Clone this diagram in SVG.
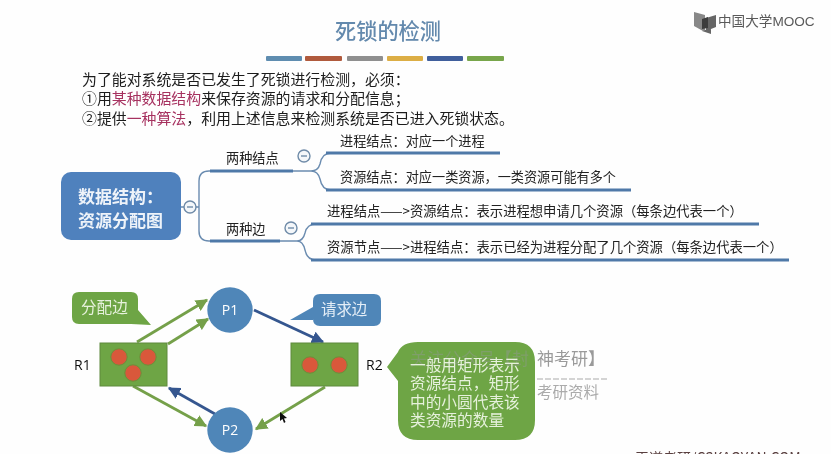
<svg xmlns="http://www.w3.org/2000/svg" width="831" height="454" viewBox="0 0 831 454">
<defs>
<marker id="ag" viewBox="0 0 10 10" refX="9" refY="5" markerWidth="4.4" markerHeight="4.4" orient="auto" markerUnits="strokeWidth"><path d="M0 0L10 5L0 10Z" fill="#74a04a"/></marker>
<marker id="ab" viewBox="0 0 10 10" refX="9" refY="5" markerWidth="4.4" markerHeight="4.4" orient="auto" markerUnits="strokeWidth"><path d="M0 0L10 5L0 10Z" fill="#35578f"/></marker>
<filter id="soft" x="0" y="0" width="100%" height="100%"><feGaussianBlur stdDeviation="0.35"/></filter>
</defs>
<style>
text{font-family:"Noto Sans CJK SC","Liberation Sans",sans-serif}
.body{font-size:14.9px;fill:#1c1c1c}
.hl{fill:#a6305f}
.mm{font-size:13.15px;fill:#222}
.mw{font-size:13.32px;fill:#222}
.thin{fill:none;stroke:#6b8cb0;stroke-width:1.4}
.thick{fill:none;stroke:#4f79a8;stroke-width:3}
.tog{fill:#f4f7fa;stroke:#6f8ba8;stroke-width:1.4}
.togm{stroke:#6f8ba8;stroke-width:1.4}
.proc{fill:#4f86b8}
.proct{font-family:"Open Sans","Liberation Sans",sans-serif;font-size:14px;fill:#fff;text-anchor:middle}
.res{fill:#6ea544;stroke:#5f8a3f;stroke-width:1}
.dot{fill:#d9583a;stroke:#6c8f3a;stroke-width:1}
.lbl{font-family:"Open Sans","Liberation Sans",sans-serif;font-size:14px;fill:#111}
.gr{fill:none;stroke:#74a04a;stroke-width:2.8;marker-end:url(#ag)}
.bl{fill:none;stroke:#35578f;stroke-width:2.8;marker-end:url(#ab)}
.call{font-size:15.7px;fill:#e6f1dc}
</style>
<rect width="831" height="454" fill="#fefefe"/>
<g filter="url(#soft)">
<g id="title">
<text x="388" y="39" font-size="21.2" font-weight="500" fill="#6389ad" text-anchor="middle">死锁的检测</text>
<rect x="266" y="56" width="36" height="5" rx="1" fill="#5e8db0"/>
<rect x="305" y="56" width="37" height="5" rx="1" fill="#b05a3e"/>
<rect x="347" y="56" width="36" height="5" rx="1" fill="#8f8f8f"/>
<rect x="387" y="56" width="36" height="5" rx="1" fill="#dcae45"/>
<rect x="427" y="56" width="36" height="5" rx="1" fill="#3f5e9c"/>
<rect x="467" y="56" width="37" height="5" rx="1" fill="#78a64c"/>
</g>
<g id="logo">
<path d="M694 12L705 15V30L703 31L694 26Z" fill="#888"/>
<path d="M702 31L711 28V34L702 31M706 18L716 15V27L706 31Z" fill="#666"/>
<path d="M702 19L708 17V28L702 29Z" fill="#3c3c3c"/>
<text x="718" y="26" font-size="13.6" fill="#5a5a5a">中国大学<tspan font-family="'Liberation Sans',sans-serif">MOOC</tspan></text>
</g>
<g id="intro">
<text class="body" x="82" y="85">为了能对系统是否已发生了死锁进行检测，必须：</text>
<text class="body" x="82" y="104">①用<tspan class="hl">某种数据结构</tspan>来保存资源的请求和分配信息；</text>
<text class="body" x="82" y="124">②提供<tspan class="hl">一种算法</tspan>，利用上述信息来检测系统是否已进入死锁状态。</text>
</g>
<g id="connectors">
<path class="thin" d="M181 207H199M199 207V181Q199 171 209 171H212M199 207V231Q199 241 209 241H212"/>
<path class="thick" d="M210 171H293M210 241H280"/>
<path class="thin" d="M293 171H311Q318 171 320 164Q322 153 331 153M311 171Q318 171 320 179Q322 190 331 190"/>
<path class="thin" d="M280 241H297Q303 241 305 233Q307 224 316 224M297 241Q303 241 305 250Q307 260 316 260"/>
<path class="thick" d="M326 153H500M326 190H631M311 224H759M311 260H789"/>
<path class="gr" d="M137 342L207 300"/>
<path class="gr" d="M168 344L208 319"/>
<path class="gr" d="M133 386L206 426"/>
<path class="gr" d="M325 387L256 429"/>
<path class="bl" d="M254 310L323 342"/>
<path class="bl" d="M215 414L169 388"/>
</g>
<g id="root">
<rect x="61" y="172" width="120" height="68" rx="10" fill="#4f81bd"/>
<text x="78" y="203" font-size="17" font-weight="700" fill="#eef3f9">数据结构：</text>
<text x="78" y="227" font-size="17" font-weight="700" fill="#eef3f9">资源分配图</text>
<circle class="tog" cx="190" cy="207" r="6"/><path class="togm" d="M187 207H193"/>
</g>
<g id="branch-nodes">
<text class="mm" x="226" y="163">两种结点</text>
<circle class="tog" cx="304" cy="156" r="6"/><path class="togm" d="M301 156H307"/>
<text class="mm" x="340" y="146">进程结点：对应一个进程</text>
<text class="mm" x="340" y="182">资源结点：对应一类资源，一类资源可能有多个</text>
</g>
<g id="branch-edges">
<text class="mm" x="226" y="234">两种边</text>
<circle class="tog" cx="291" cy="228" r="6"/><path class="togm" d="M288 228H294"/>
<text class="mw" x="327" y="216">进程结点——&gt;资源结点：表示进程想申请几个资源（每条边代表一个）</text>
<text class="mw" x="327" y="252">资源节点——&gt;进程结点：表示已经为进程分配了几个资源（每条边代表一个）</text>
</g>
<g id="P1"><circle class="proc" cx="230" cy="310" r="22.7"/><text class="proct" x="230" y="315">P1</text></g>
<g id="P2"><circle class="proc" cx="230" cy="430" r="22.7"/><text class="proct" x="230" y="435">P2</text></g>
<g id="R1">
<rect class="res" x="100" y="343" width="67" height="43"/>
<circle class="dot" cx="119" cy="357" r="8.2"/><circle class="dot" cx="148" cy="357" r="8.2"/><circle class="dot" cx="133" cy="373" r="8.2"/>
<text class="lbl" x="74" y="370">R1</text>
</g>
<g id="R2">
<rect class="res" x="291" y="343" width="67" height="43"/>
<circle class="dot" cx="310" cy="365" r="8.2"/><circle class="dot" cx="339" cy="365" r="8.2"/>
<text class="lbl" x="366" y="370">R2</text>
</g>
<g id="callout-alloc">
<path d="M79 292H131Q138 292 138 299V310L151 325L131 324H79Q72 324 72 317V299Q72 292 79 292Z" fill="#6ea544"/>
<text x="81" y="313" font-size="15.6" fill="#e6f1dc">分配边</text>
</g>
<g id="callout-req">
<path d="M320 294H374Q381 294 381 301V319Q381 326 374 326H320Q313 326 313 319V320L290 320L313 307V301Q313 294 320 294Z" fill="#4f86b8"/>
<text x="321" y="315" font-size="15.4" fill="#e4eef7">请求边</text>
</g>
<g id="watermark">
<text x="537" y="365" font-size="17" fill="#9a9a9a">神考研】</text>
<path d="M537 379H608" stroke="#aaa" stroke-width="1" stroke-dasharray="6 2"/>
<text x="537" y="398" font-size="15.500" fill="#ababab">考研资料</text>
</g>
<g id="callout-note">
<path d="M418 342H515Q535 342 535 362V420Q535 440 515 440H418Q398 440 398 420V381L387 367L398 352Q402 342 418 342Z" fill="#6ea544"/>
<text x="410" y="365" font-size="17" fill="#7f9f6a">关注公众号【封</text>
<text class="call" x="410" y="370.500">一般用矩形表示</text>
<text class="call" x="410" y="389">资源结点，矩形</text>
<text class="call" x="410" y="407.500">中的小圆代表该</text>
<text class="call" x="410" y="426">类资源的数量</text>
</g>
<path id="cursor" d="M280 412L280 421L282.500 419L284 423L285.500 422L284 418.500L287 418Z" fill="#111"/>
<text id="footer" x="635" y="463" font-size="14" fill="#5a4040">王道考研/CSKAOYAN.COM</text>
</g>
</svg>
